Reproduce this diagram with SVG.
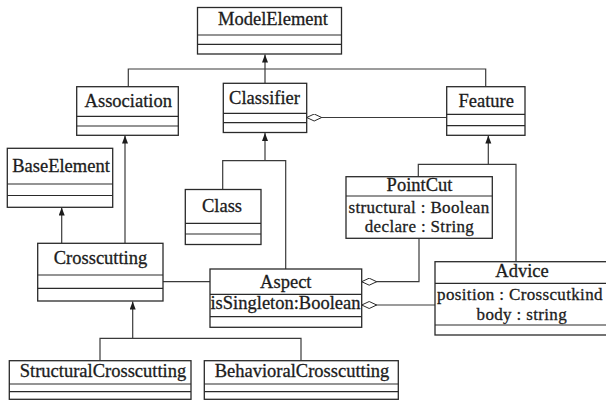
<svg xmlns="http://www.w3.org/2000/svg" width="606" height="403" viewBox="0 0 606 403">
<style>
.box{fill:#fff;stroke:#2a2a2a;stroke-width:1.3}
.div{stroke:#2a2a2a;stroke-width:1.2}
.t{font-family:"Liberation Serif","Times New Roman",serif;font-size:18.5px;fill:#1c1c1c;stroke:#1c1c1c;stroke-width:0.3;text-anchor:middle}
.a{font-size:17px;letter-spacing:0.35px}
.c{fill:none;stroke:#3a3a3a;stroke-width:1.2}
</style>
<defs>
<marker id="arr" markerUnits="userSpaceOnUse" markerWidth="9" markerHeight="7" refX="8" refY="3" orient="auto">
<path d="M0,0 L8,3 L0,6 z" fill="#1c1c1c"/>
</marker>
<marker id="dia" markerUnits="userSpaceOnUse" markerWidth="17" markerHeight="9" refX="0.5" refY="4" orient="auto">
<path d="M0.5,4 L8,0.5 L15.5,4 L8,7.5 z" fill="#fff" stroke="#2a2a2a" stroke-width="1"/>
</marker>
</defs>
<rect width="606" height="403" fill="#fff"/>
<g id="connectors">
<path class="c" d="M128.3,86.7 V69 H485.7 V86.7"/>
<path class="c" d="M265,83.3 V54.5" marker-end="url(#arr)"/>
<path class="c" d="M306.7,117.5 H446.7" marker-start="url(#dia)"/>
<path class="c" d="M125,243.3 V135.5" marker-end="url(#arr)"/>
<path class="c" d="M61.7,243.3 V207.5" marker-end="url(#arr)"/>
<path class="c" d="M265,160.7 V133" marker-end="url(#arr)"/>
<path class="c" d="M222.7,189.5 V160.7 H285.7 V269"/>
<path class="c" d="M488.3,164.3 V135.5" marker-end="url(#arr)"/>
<path class="c" d="M418.3,176.7 V164.3 H516 V261.7"/>
<path class="c" d="M163,281.7 H210"/>
<path class="c" d="M361.7,281.7 H419 V238.3" marker-start="url(#dia)"/>
<path class="c" d="M361.7,305 H435" marker-start="url(#dia)"/>
<path class="c" d="M132.7,338.3 V301.5" marker-end="url(#arr)"/>
<path class="c" d="M100,360.7 V338.3 H301 V360.7"/>
</g>
<g id="ModelElement">
<rect class="box" x="197.5" y="7.5" width="144" height="46.5"/>
<line class="div" x1="197.5" y1="35" x2="341.5" y2="35"/>
<line class="div" x1="197.5" y1="44.3" x2="341.5" y2="44.3"/>
<text class="t" x="273" y="25">ModelElement</text>
</g>
<g id="Association">
<rect class="box" x="76.7" y="86.7" width="101.6" height="48.6"/>
<line class="div" x1="76.7" y1="116.3" x2="178.3" y2="116.3"/>
<line class="div" x1="76.7" y1="126" x2="178.3" y2="126"/>
<text class="t" x="128.3" y="106.7">Association</text>
</g>
<g id="Classifier">
<rect class="box" x="223.3" y="83.3" width="83.4" height="49.2"/>
<line class="div" x1="223.3" y1="113.3" x2="306.7" y2="113.3"/>
<line class="div" x1="223.3" y1="122.7" x2="306.7" y2="122.7"/>
<text class="t" x="264.5" y="104">Classifier</text>
</g>
<g id="Feature">
<rect class="box" x="446.7" y="86.7" width="78.3" height="48.6"/>
<line class="div" x1="446.7" y1="114.3" x2="525" y2="114.3"/>
<line class="div" x1="446.7" y1="125.7" x2="525" y2="125.7"/>
<text class="t" x="486.2" y="106.7">Feature</text>
</g>
<g id="BaseElement">
<rect class="box" x="7.3" y="148.3" width="105.4" height="59"/>
<line class="div" x1="7.3" y1="184" x2="112.7" y2="184"/>
<line class="div" x1="7.3" y1="195.5" x2="112.7" y2="195.5"/>
<text class="t" x="61" y="171.7">BaseElement</text>
</g>
<g id="Class">
<rect class="box" x="185.3" y="189.5" width="75.7" height="55"/>
<line class="div" x1="185.3" y1="223.3" x2="261" y2="223.3"/>
<line class="div" x1="185.3" y1="234" x2="261" y2="234"/>
<text class="t" x="222" y="211.7">Class</text>
</g>
<g id="Crosscutting">
<rect class="box" x="37.7" y="243.3" width="125.3" height="57.7"/>
<line class="div" x1="37.7" y1="275" x2="163" y2="275"/>
<line class="div" x1="37.7" y1="288.3" x2="163" y2="288.3"/>
<text class="t" x="100.5" y="264.3">Crosscutting</text>
</g>
<g id="PointCut">
<rect class="box" x="346" y="176.7" width="146.3" height="61.6"/>
<line class="div" x1="346" y1="196" x2="492.3" y2="196"/>
<text class="t" x="419.5" y="191">PointCut</text>
<text class="t a" x="419" y="212.5">structural : Boolean</text>
<text class="t a" x="419.5" y="232">declare : String</text>
</g>
<g id="Aspect">
<rect class="box" x="210" y="269" width="151.7" height="58.3"/>
<line class="div" x1="210" y1="294.3" x2="361.7" y2="294.3"/>
<line class="div" x1="210" y1="316.7" x2="361.7" y2="316.7"/>
<text class="t" x="285.8" y="287.5">Aspect</text>
<text class="t" x="285.5" y="309">isSingleton:Boolean</text>
</g>
<g id="Advice">
<rect class="box" x="435" y="261.7" width="174" height="73.3"/>
<line class="div" x1="435" y1="283.3" x2="609" y2="283.3"/>
<line class="div" x1="435" y1="325" x2="609" y2="325"/>
<text class="t" x="522" y="276.7">Advice</text>
<text class="t a" x="520" y="300">position : Crosscutkind</text>
<text class="t a" x="521.8" y="319.5">body : string</text>
</g>
<g id="StructuralCrosscutting">
<rect class="box" x="9.3" y="360.7" width="181.7" height="38.6"/>
<line class="div" x1="9.3" y1="384" x2="191" y2="384"/>
<line class="div" x1="9.3" y1="391.7" x2="191" y2="391.7"/>
<text class="t" x="103" y="377">StructuralCrosscutting</text>
</g>
<g id="BehavioralCrosscutting">
<rect class="box" x="204.3" y="360.7" width="194" height="38.6"/>
<line class="div" x1="204.3" y1="384" x2="398.3" y2="384"/>
<line class="div" x1="204.3" y1="391.7" x2="398.3" y2="391.7"/>
<text class="t" x="302" y="377">BehavioralCrosscutting</text>
</g>
</svg>
